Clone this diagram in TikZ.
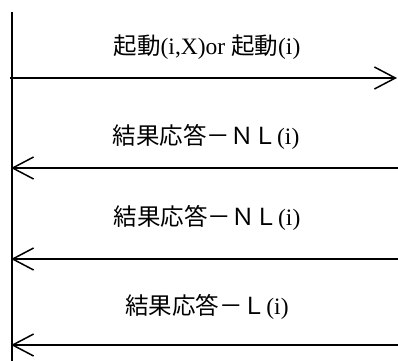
\documentclass[tikz,border=0pt]{standalone}
\usepackage{fontspec}
\setmainfont{Liberation Serif}
\newfontfamily\jpfont{Noto Sans CJK JP}
\usetikzlibrary{arrows.meta}
\begin{document}
\begin{tikzpicture}[x=1pt, y=-1pt]
  \tikzstyle{every node}=[inner sep=0pt, font=\fontsize{23.5}{27}\selectfont]
  \tikzstyle{msg}=[line width=1.5pt, -{Straight Barb[length=21pt, width=22pt, line width=1.5pt]}]
  \useasboundingbox (0,0) rectangle (398,360);
    \coordinate (LT) at (12,12);
    \coordinate (LB) at (12,361);
    \coordinate (S1) at (10,78);   \coordinate (E1) at (397,78);
    \coordinate (S2) at (398,168); \coordinate (E2) at (11,168);
    \coordinate (S3) at (398,259); \coordinate (E3) at (11,259);
    \coordinate (S4) at (398,345); \coordinate (E4) at (11,345);
    \node (M1) at (207,47) {{\jpfont 起動}(i,X)or {\jpfont 起動}(i)};
    \node (M2) at (206,137) {{\jpfont 結果応答－ＮＬ}(i)};
    \node (M3) at (207,218) {{\jpfont 結果応答－ＮＬ}(i)};
    \node (M4) at (207,307) {{\jpfont 結果応答－Ｌ}(i)};
    \draw[line width=1.5pt] (LT) -- (LB);
    \draw[msg] (S1) -- (E1);
    \draw[msg] (S2) -- (E2);
    \draw[msg] (S3) -- (E3);
    \draw[msg] (S4) -- (E4);
  \end{tikzpicture}
\end{document}
